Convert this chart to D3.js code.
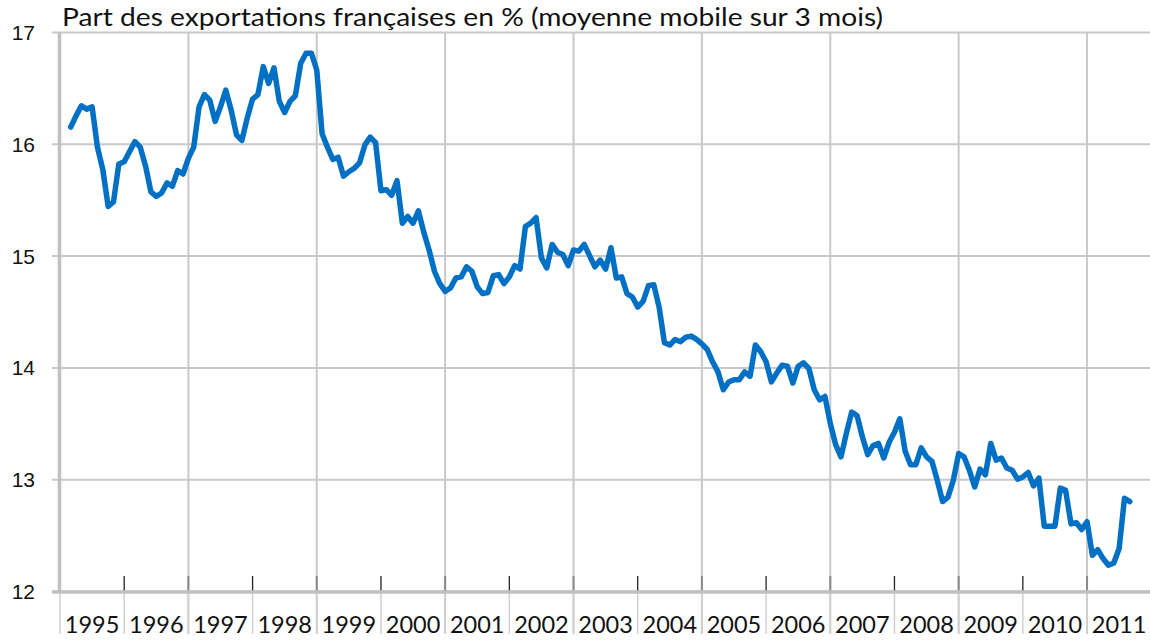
<!DOCTYPE html>
<html>
<head>
<meta charset="utf-8">
<script src="https://cdn.jsdelivr.net/npm/d3@7"></script>
<style>
  body { margin: 0; background: #fff; }
  svg { display: block; font-family: Lato, "Open Sans", sans-serif; }
</style>
</head>
<body>
<div id="chart"></div>
<script>
// Data
// ===========================
// 3-month moving average, monthly, first value = March 1995
var firstYear = 1995;
var firstMonth = 3;
var shareValues = [
  16.15, 16.25, 16.34, 16.31, 16.33, 15.97, 15.77, 15.44, 15.48, 15.82,
  15.84, 15.93, 16.02, 15.97, 15.80, 15.57, 15.53, 15.56, 15.65, 15.62,
  15.76, 15.73, 15.87, 15.97, 16.33, 16.44, 16.39, 16.20, 16.33, 16.48,
  16.30, 16.08, 16.03, 16.23, 16.40, 16.44, 16.69, 16.54, 16.68, 16.38,
  16.28, 16.38, 16.43, 16.72, 16.81, 16.81, 16.66, 16.09, 15.97, 15.86,
  15.88, 15.71, 15.75, 15.78, 15.83, 15.99, 16.06, 16.01, 15.58, 15.59,
  15.54, 15.67, 15.29, 15.35, 15.29, 15.40, 15.21, 15.05, 14.86, 14.75,
  14.68, 14.71, 14.80, 14.81, 14.90, 14.86, 14.72, 14.66, 14.67, 14.82,
  14.83, 14.75, 14.81, 14.91, 14.88, 15.26, 15.29, 15.34, 14.98, 14.89,
  15.10, 15.03, 15.01, 14.91, 15.05, 15.04, 15.10, 15.00, 14.90, 14.96,
  14.88, 15.07, 14.80, 14.81, 14.66, 14.63, 14.54, 14.59, 14.73, 14.74,
  14.54, 14.22, 14.20, 14.25, 14.23, 14.27, 14.28, 14.25, 14.21, 14.16,
  14.05, 13.96, 13.80, 13.87, 13.89, 13.89, 13.96, 13.92, 14.20, 14.14,
  14.05, 13.87, 13.95, 14.02, 14.01, 13.86, 14.01, 14.04, 13.99, 13.80,
  13.71, 13.74, 13.50, 13.31, 13.20, 13.41, 13.60, 13.57, 13.38, 13.22,
  13.30, 13.32, 13.19, 13.33, 13.42, 13.54, 13.25, 13.13, 13.13, 13.28,
  13.20, 13.16, 12.99, 12.80, 12.84, 12.99, 13.23, 13.20, 13.08, 12.93,
  13.09, 13.04, 13.32, 13.17, 13.19, 13.10, 13.08, 13.00, 13.02, 13.06,
  12.94, 13.01, 12.58, 12.58, 12.58, 12.92, 12.90, 12.60, 12.61, 12.55,
  12.62, 12.32, 12.37, 12.29, 12.23, 12.25, 12.38, 12.83, 12.80
];
var yearLabels = [1995, 1996, 1997, 1998, 1999, 2000, 2001, 2002, 2003,
  2004, 2005, 2006, 2007, 2008, 2009, 2010, 2011];
var yTicks = [12, 13, 14, 15, 16, 17];
var title = "Part des exportations françaises en % (moyenne mobile sur 3 mois)";

// Setup
// ===========================
var width = 1150;
var height = 640;
var plotLeft = 60;
var plotTop = 32;
var plotBottom = 591;

var svg = d3.select("#chart")
  .append("svg")
  .attr("width", width)
  .attr("height", height);

var xScale = d3.scaleLinear()
  .domain([1995, 2012])
  .range([plotLeft, plotLeft + 17 * 64.19]);

var yScale = d3.scaleLinear()
  .domain([12, 17])
  .range([plotBottom, plotTop]);

var data = shareValues.map(function(v, i) {
  return { t: firstYear + (firstMonth - 1 + i) / 12, v: v };
});

// horizontal gridlines + y labels
var yAxis = d3.axisLeft(yScale)
  .tickValues(yTicks)
  .tickSize(-(width - plotLeft))
  .tickFormat(d3.format("d"));

var gy = svg.append("g")
  .attr("class", "yAxis")
  .attr("transform", "translate(" + plotLeft + ",0)")
  .call(yAxis);
gy.select(".domain").remove();
gy.selectAll(".tick line")
  .attr("x1", -8)
  .attr("stroke", "#c8c8c8")
  .attr("stroke-width", 2);
gy.selectAll(".tick text")
  .attr("fill", "#111")
  .style("font-size", "21px")
  .attr("dy", "0.36em")
  .attr("x", -25);

// vertical gridlines every two years (through the label band)
var boundaries = d3.range(1995, 2013);
svg.append("g")
  .selectAll("line")
  .data(boundaries.filter(function(y) { return (y - 1995) % 2 === 0 && y > 1995; }))
  .enter()
  .append("line")
  .attr("x1", function(d) { return xScale(d); })
  .attr("x2", function(d) { return xScale(d); })
  .attr("y1", plotTop)
  .attr("y2", 634)
  .attr("stroke", "#c8c8c8")
  .attr("stroke-width", 2);

// separators between year labels below the axis
svg.append("g")
  .selectAll("line")
  .data(boundaries)
  .enter()
  .append("line")
  .attr("x1", function(d) { return xScale(d); })
  .attr("x2", function(d) { return xScale(d); })
  .attr("y1", plotBottom)
  .attr("y2", 634)
  .attr("stroke", "#d0d0d0")
  .attr("stroke-width", 1.5);

// small ticks above the axis at each year boundary
svg.append("g")
  .selectAll("line")
  .data(boundaries.filter(function(y) { return y > 1995 && y < 2012; }))
  .enter()
  .append("line")
  .attr("x1", function(d) { return xScale(d); })
  .attr("x2", function(d) { return xScale(d); })
  .attr("y1", plotBottom - 15)
  .attr("y2", plotBottom)
  .attr("stroke", function(d) { return (d - 1995) % 2 === 0 ? "#8a8a8a" : "#222"; })
  .attr("stroke-width", function(d) { return (d - 1995) % 2 === 0 ? 2 : 1.3; });

// left axis line and bottom axis line
svg.append("line")
  .attr("x1", plotLeft - 0.5).attr("x2", plotLeft - 0.5)
  .attr("y1", plotTop).attr("y2", plotBottom + 1)
  .attr("stroke", "#c0c0c0")
  .attr("stroke-width", 3.5);
svg.append("line")
  .attr("x1", plotLeft - 8).attr("x2", width)
  .attr("y1", plotBottom + 1).attr("y2", plotBottom + 1)
  .attr("stroke", "#c0c0c0")
  .attr("stroke-width", 3.5);

// year labels, centred in each year
svg.append("g")
  .selectAll("text")
  .data(yearLabels)
  .enter()
  .append("text")
  .attr("x", function(d) { return xScale(d + 0.5); })
  .attr("y", 633)
  .attr("text-anchor", "middle")
  .attr("fill", "#111")
  .style("font-size", "23.5px")
  .text(function(d) { return d; });

// title
svg.append("text")
  .attr("x", 62)
  .attr("y", 26)
  .attr("fill", "#111")
  .attr("textLength", 821)
  .attr("lengthAdjust", "spacingAndGlyphs")
  .style("font-size", "24.5px")
  .text(title);

// the line
var line = d3.line()
  .x(function(d) { return xScale(d.t); })
  .y(function(d) { return yScale(d.v); });

svg.append("path")
  .datum(data)
  .attr("d", line)
  .attr("fill", "none")
  .attr("stroke", "#0070c4")
  .attr("stroke-width", 5.5)
  .attr("stroke-linejoin", "round")
  .attr("stroke-linecap", "round");
</script>
</body>
</html>
